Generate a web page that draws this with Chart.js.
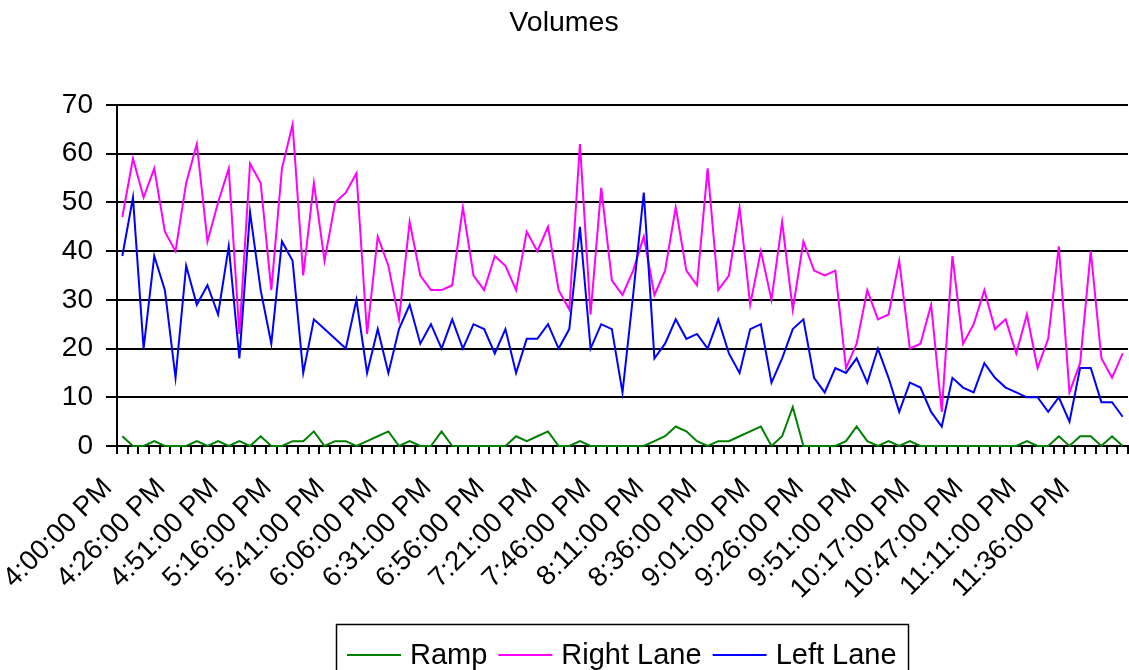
<!DOCTYPE html>
<html>
<head>
<meta charset="utf-8">
<title>Volumes</title>
<script src="https://cdn.jsdelivr.net/npm/chart.js@4.4.1/dist/chart.umd.min.js"></script>
<style>
  html, body { margin: 0; padding: 0; background: #ffffff; }
  #wrap { width: 1129px; height: 670px; position: relative; }
</style>
</head>
<body>
<div id="wrap"><canvas id="volumes" width="1129" height="670"></canvas></div>
<script>
// Sample times (one category per count interval)
const times = [
  "4:00:00 PM","4:06:00 PM","4:11:00 PM","4:16:00 PM","4:21:00 PM",
  "4:26:00 PM","4:31:00 PM","4:36:00 PM","4:41:00 PM","4:46:00 PM",
  "4:51:00 PM","4:56:00 PM","5:01:00 PM","5:06:00 PM","5:11:00 PM",
  "5:16:00 PM","5:21:00 PM","5:26:00 PM","5:31:00 PM","5:36:00 PM",
  "5:41:00 PM","5:46:00 PM","5:51:00 PM","5:56:00 PM","6:01:00 PM",
  "6:06:00 PM","6:11:00 PM","6:16:00 PM","6:21:00 PM","6:26:00 PM",
  "6:31:00 PM","6:36:00 PM","6:41:00 PM","6:46:00 PM","6:51:00 PM",
  "6:56:00 PM","7:01:00 PM","7:06:00 PM","7:11:00 PM","7:16:00 PM",
  "7:21:00 PM","7:26:00 PM","7:31:00 PM","7:36:00 PM","7:41:00 PM",
  "7:46:00 PM","7:51:00 PM","7:56:00 PM","8:01:00 PM","8:06:00 PM",
  "8:11:00 PM","8:16:00 PM","8:21:00 PM","8:26:00 PM","8:31:00 PM",
  "8:36:00 PM","8:41:00 PM","8:46:00 PM","8:51:00 PM","8:56:00 PM",
  "9:01:00 PM","9:06:00 PM","9:11:00 PM","9:16:00 PM","9:21:00 PM",
  "9:26:00 PM","9:31:00 PM","9:36:00 PM","9:41:00 PM","9:46:00 PM",
  "9:51:00 PM","9:57:00 PM","10:02:00 PM","10:07:00 PM","10:12:00 PM",
  "10:17:00 PM","10:23:00 PM","10:29:00 PM","10:35:00 PM","10:41:00 PM",
  "10:47:00 PM","10:52:00 PM","10:57:00 PM","11:02:00 PM","11:06:00 PM",
  "11:11:00 PM","11:16:00 PM","11:21:00 PM","11:26:00 PM","11:31:00 PM",
  "11:36:00 PM","11:41:00 PM","11:46:00 PM","11:51:00 PM","11:56:00 PM"
];

// Vehicle counts per interval
const ramp = [
  2,0,0,1,0, 0,0,1,0,1, 0,1,0,2,0, 0,1,1,3,0,
  1,1,0,1,2, 3,0,1,0,0, 3,0,0,0,0, 0,0,2,1,2,
  3,0,0,1,0, 0,0,0,0,0, 1,2,4,3,1, 0,1,1,2,3,
  4,0,2,8,0, 0,0,0,1,4, 1,0,1,0,1, 0,0,0,0,0,
  0,0,0,0,0, 1,0,0,2,0, 2,2,0,2,0
];
const rightLane = [
  47,59,51,57,44, 40,54,62,42,50, 57,23,58,54,32, 57,66,35,54,38,
  50,52,56,23,43, 37,26,46,35,32, 32,33,49,35,32, 39,37,32,44,40,
  45,32,28,62,27, 53,34,31,36,43, 31,36,49,36,33, 57,32,35,49,29,
  40,30,46,28,42, 36,35,36,16,21, 32,26,27,38,20, 21,29,7,39,21,
  25,32,24,26,19, 27,16,22,41,11, 17,40,18,14,19
];
const leftLane = [
  39,51,20,39,32, 14,37,29,33,27, 41,18,48,32,21, 42,38,15,26,24,
  22,20,30,15,24, 15,24,29,21,25, 20,26,20,25,24, 19,24,15,22,22,
  25,20,24,45,20, 25,24,11,31,52, 18,21,26,22,23, 20,26,19,15,24,
  25,13,18,24,26, 14,11,16,15,18, 13,20,14,7,13, 12,7,4,14,12,
  11,17,14,12,11, 10,10,7,10,5, 16,16,9,9,6
];

const seriesNames = ["Ramp", "Right Lane", "Left Lane"];
const seriesColors = ["#008000", "#ff00ff", "#0000ff"];
const yTickValues = [0, 10, 20, 30, 40, 50, 60, 70];

const FONT = "'Liberation Sans', Arial, sans-serif";
Chart.defaults.font.family = FONT;
Chart.defaults.color = "#000";

// Framed legend: short line swatch + series name, inside a thin black box
const framedLegend = {
  id: "framedLegend",
  afterDraw(chart, args, o) {
    const ctx = chart.ctx;
    const sets = chart.data.datasets;
    ctx.save();
    ctx.font = o.fontSize + "px " + FONT;
    const widths = sets.map(d => ctx.measureText(d.label).width);
    let total = o.padX * 2 + o.gapItem * (sets.length - 1);
    widths.forEach(w => { total += o.lineLen + o.gapText + w; });
    const left = Math.round(o.centerX - total / 2);
    ctx.lineWidth = o.borderWidth;
    ctx.strokeStyle = "#000";
    ctx.strokeRect(left + 0.5, o.top + 0.5, Math.round(total), o.height);
    let x = left + o.padX;
    sets.forEach((d, i) => {
      ctx.strokeStyle = d.borderColor;
      ctx.lineWidth = 2;
      ctx.beginPath();
      ctx.moveTo(x, o.lineY);
      ctx.lineTo(x + o.lineLen, o.lineY);
      ctx.stroke();
      x += o.lineLen + o.gapText;
      ctx.fillStyle = "#000";
      ctx.textBaseline = "alphabetic";
      ctx.textAlign = "left";
      ctx.fillText(d.label, x, o.textY);
      x += widths[i] + o.gapItem;
    });
    ctx.restore();
  }
};

const seriesData = [ramp, rightLane, leftLane];

new Chart(document.getElementById("volumes"), {
  type: "line",
  data: {
    labels: times,
    datasets: seriesNames.map((name, i) => ({
      label: name,
      data: seriesData[i],
      borderColor: seriesColors[i],
      backgroundColor: seriesColors[i],
      borderWidth: 2,
      pointRadius: 0,
      tension: 0,
      fill: false,
      clip: 4,
      order: 2 - i
    }))
  },
  options: {
    responsive: false,
    animation: false,
    devicePixelRatio: 1,
    layout: { padding: { left: 0, right: 1, top: 0, bottom: 0 } },
    plugins: {
      legend: { display: false },
      tooltip: { enabled: false },
      title: {
        display: true,
        text: "Volumes",
        color: "#000",
        font: { size: 28.5, weight: "normal", family: FONT },
        padding: { top: 6.2, bottom: 64.6 }
      },
      framedLegend: {
        fontSize: 29, centerX: 621.5, top: 624, height: 60,
        padX: 11, lineLen: 54, gapText: 9, gapItem: 11,
        lineY: 655, textY: 664, borderWidth: 1.5
      }
    },
    scales: {
      x: {
        offset: true,
        grid: {
          offset: true, drawOnChartArea: false, drawTicks: true,
          tickLength: 8, color: "#000", lineWidth: 2
        },
        border: { display: true, color: "#000", width: 2 },
        ticks: {
          autoSkip: false, minRotation: 45, maxRotation: 45, padding: 18,
          labelOffset: -14.5,
          color: "#000", font: { size: 27.5, family: FONT },
          callback: function (value, index) {
            return index % 5 === 0 ? this.getLabelForValue(value) : "";
          }
        },
        afterFit(scale) { scale.height = 224; scale.paddingLeft = 0; scale.paddingRight = 0; }
      },
      y: {
        min: yTickValues[0],
        max: yTickValues[yTickValues.length - 1],
        afterBuildTicks(scale) { scale.ticks = yTickValues.map(v => ({ value: v })); },
        grid: { color: "#000", lineWidth: 2, tickLength: 11, drawTicks: true },
        border: { display: true, color: "#000", width: 2 },
        ticks: { color: "#000", font: { size: 28, family: FONT }, padding: 13 },
        afterFit(scale) { scale.width = 117; scale.paddingTop = 0; scale.paddingBottom = 0; }
      }
    }
  },
  plugins: [framedLegend]
});
</script>
</body>
</html>
